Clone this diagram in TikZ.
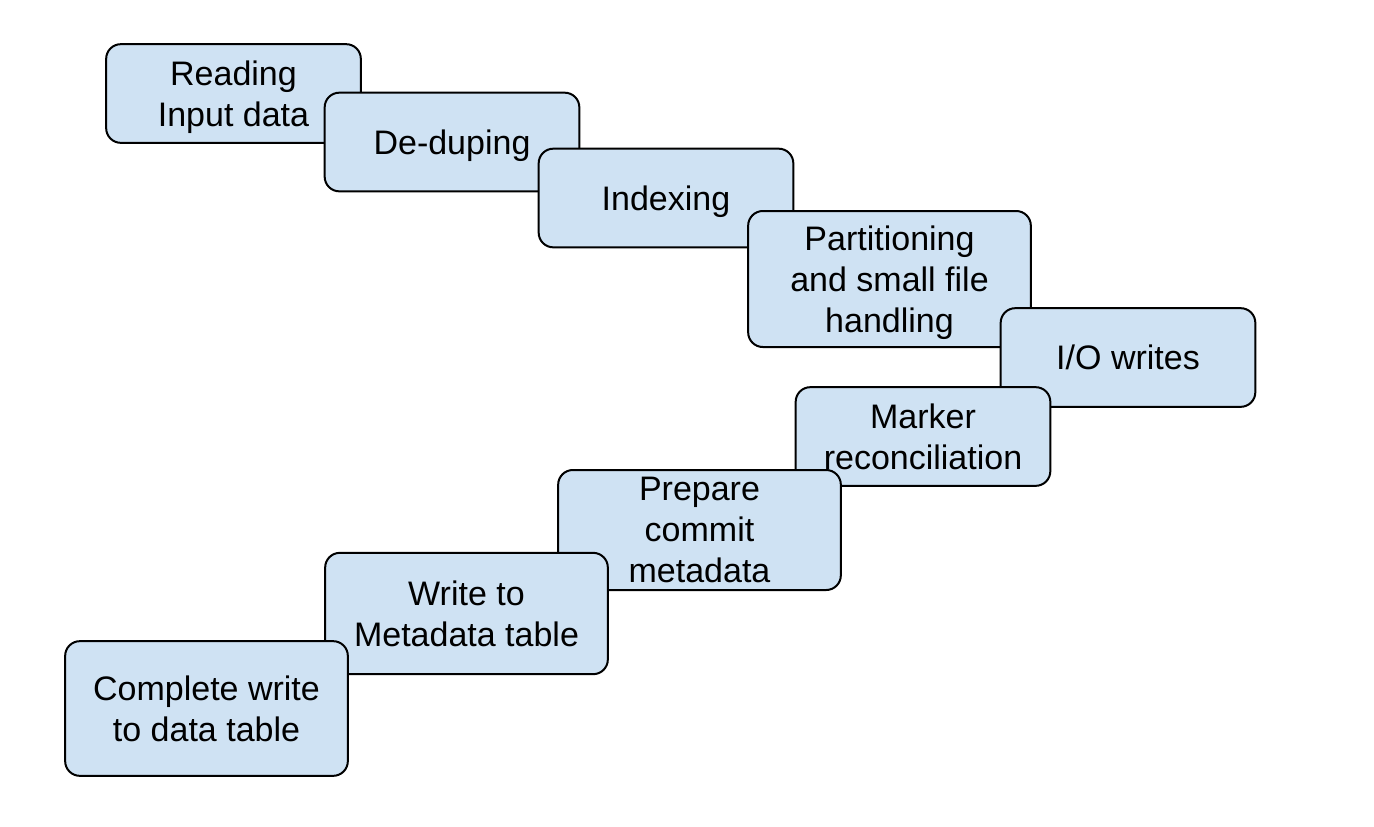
\documentclass[tikz,border=0pt]{standalone}
\usepackage{fontspec}
\setmainfont{Liberation Sans}
\usepackage{tikz}
\usetikzlibrary{positioning}
\usepackage{xcolor}
\definecolor{stagefill}{HTML}{CFE2F3}

\begin{document}
\begin{tikzpicture} [x=0.75pt, y=-0.75pt
  , stage/.style={draw=black, fill=stagefill, line width=1.5pt, rounded corners=11pt
    , align=center, inner sep=0pt, text depth=-2pt
    , font=\fontsize{25.5}{30.75}\selectfont}
  , narrow/.style={stage, minimum width=191pt, minimum height=74pt}
  , wide/.style={stage, minimum width=212pt, minimum height=#1}
]
  \useasboundingbox (0,0) rectangle (1374,826);
  % top run
  \node[narrow] (read) at (233.5,93.5) {Reading\\Input data};
  \node[narrow] (dedup) at (452,142) {De-duping};
  \node[narrow] (index) at (666,198) {Indexing};
  \node[wide=102pt] (part) at (889.5,279) {Partitioning\\and small file\\handling};
  \node[narrow] (io) at (1128,357.5) {I/O writes};
  % bottom run
  \node[narrow] (marker) at (923,436.5) {Marker\\reconciliation};
  \node[wide=90pt] (prep) at (699.5,530) {Prepare\\commit\\metadata};
  \node[wide=91pt] (meta) at (466.5,613.5) {Write to\\Metadata table};
  \node[wide=101pt] (done) at (206.5,708.5) {Complete write\\to data table};
\end{tikzpicture}
\end{document}
